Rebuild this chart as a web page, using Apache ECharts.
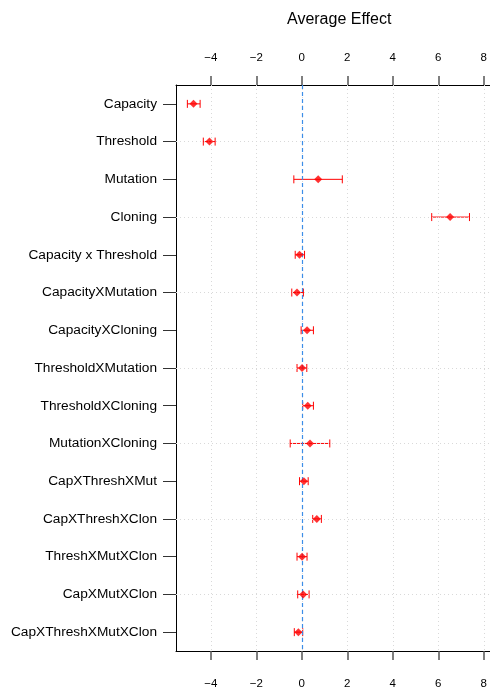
<!DOCTYPE html>
<html>
<head>
<meta charset="utf-8">
<script src="https://cdn.jsdelivr.net/npm/echarts@6/dist/echarts.min.js"></script>
<style>
  html, body { margin: 0; padding: 0; background: #fff; }
  #chart { width: 490px; height: 692px; }
</style>
</head>
<body>
<div id="chart"></div>
<script>
// Model terms, top to bottom
const categories = [
  'Capacity', 'Threshold', 'Mutation', 'Cloning', 'Capacity x Threshold',
  'CapacityXMutation', 'CapacityXCloning', 'ThresholdXMutation', 'ThresholdXCloning',
  'MutationXCloning', 'CapXThreshXMut', 'CapXThreshXClon', 'ThreshXMutXClon',
  'CapXMutXClon', 'CapXThreshXMutXClon'
];
// Estimated average effect and its interval bounds
const effect = [-4.76, -4.06, 0.72, 6.52, -0.10, -0.21, 0.23, 0.01, 0.26, 0.36, 0.09, 0.66, 0.01, 0.06, -0.15];
const lower  = [-5.03, -4.33, -0.35, 5.71, -0.29, -0.44, -0.03, -0.21, 0.04, -0.51, -0.10, 0.48, -0.21, -0.18, -0.33];
const upper  = [-4.47, -3.81, 1.78, 7.37, 0.12, 0.07, 0.51, 0.22, 0.51, 1.23, 0.28, 0.86, 0.23, 0.32, 0.04];
// Axis tick labels
const xTicks = [-4, -2, 0, 2, 4, 6, 8];

const FONT = '"Liberation Sans", Arial, Helvetica, sans-serif';
const X_MIN = -5.53, X_MAX = 8.27;

const fmt = v => (v < 0 ? '\u2212' + Math.abs(v) : String(v));

function xAxisDef(position, margin) {
  return {
    type: 'value', position: position, min: X_MIN, max: X_MAX,
    axisLine: { show: true, onZero: false, lineStyle: { color: '#000', width: 1 } },
    axisTick: { show: true, length: 9, customValues: xTicks, lineStyle: { color: '#555', width: 1.5 } },
    axisLabel: { show: true, customValues: xTicks, formatter: fmt, margin: margin,
      fontFamily: FONT, fontSize: 11.5, color: '#000' },
    splitLine: { show: false }
  };
}

const gridLines = [];
xTicks.forEach(v => gridLines.push({ xAxis: v }));
categories.forEach((c, i) => { if (i % 2 === 1) gridLines.push({ yAxis: c }); });

const chart = echarts.init(document.getElementById('chart'), null, { renderer: 'canvas' });
chart.setOption({
  animation: false,
  backgroundColor: '#fff',
  title: {
    text: 'Average Effect', left: 282, top: 7,
    textStyle: { fontFamily: FONT, fontSize: 16, fontWeight: 'normal', color: '#000' }
  },
  grid: { left: 176, top: 85, bottom: 41, right: 0, containLabel: false },
  xAxis: [xAxisDef('top', 21), xAxisDef('bottom', 27)],
  yAxis: {
    type: 'category', data: categories, inverse: true,
    axisLine: { show: true, onZero: false, lineStyle: { color: '#000', width: 1 } },
    axisTick: { show: true, alignWithLabel: true, length: 13, lineStyle: { color: '#333', width: 1 } },
    axisLabel: { margin: 19, fontFamily: FONT, fontSize: 13.7, color: '#000' },
    splitLine: { show: false }
  },
  series: [
    {
      // reference lines: dotted grid plus the dashed zero line
      type: 'scatter', xAxisIndex: 0, data: [], silent: true,
      markLine: {
        silent: true, symbol: 'none', label: { show: false },
        lineStyle: { color: '#d9d9d9', type: [1, 3], width: 1 },
        data: gridLines
      }
    },
    {
      type: 'scatter', xAxisIndex: 0, data: [], silent: true, z: 3,
      markLine: {
        silent: true, symbol: 'none', label: { show: false },
        lineStyle: { color: '#3c8ee8', type: [4, 3], width: 1.2 },
        data: [{ xAxis: 0 }]
      }
    },
    {
      // interval bars with end caps
      type: 'custom', xAxisIndex: 0, z: 4,
      data: categories.map((c, i) => [lower[i], upper[i], i]),
      encode: { x: [0, 1], y: 2 },
      renderItem: function (params, api) {
        const a = api.coord([api.value(0), api.value(2)]);
        const b = api.coord([api.value(1), api.value(2)]);
        const h = 4;
        const st = { stroke: '#ff0000', lineWidth: 1 };
        return {
          type: 'group',
          children: [
            { type: 'line', shape: { x1: a[0], y1: a[1], x2: b[0], y2: b[1] }, style: st },
            { type: 'line', shape: { x1: a[0], y1: a[1] - h, x2: a[0], y2: a[1] + h }, style: st },
            { type: 'line', shape: { x1: b[0], y1: b[1] - h, x2: b[0], y2: b[1] + h }, style: st }
          ]
        };
      }
    },
    {
      type: 'scatter', xAxisIndex: 0, z: 5,
      symbol: 'diamond', symbolSize: 8,
      itemStyle: { color: '#ff0000' },
      data: categories.map((c, i) => [effect[i], i])
    }
  ]
});
</script>
</body>
</html>
